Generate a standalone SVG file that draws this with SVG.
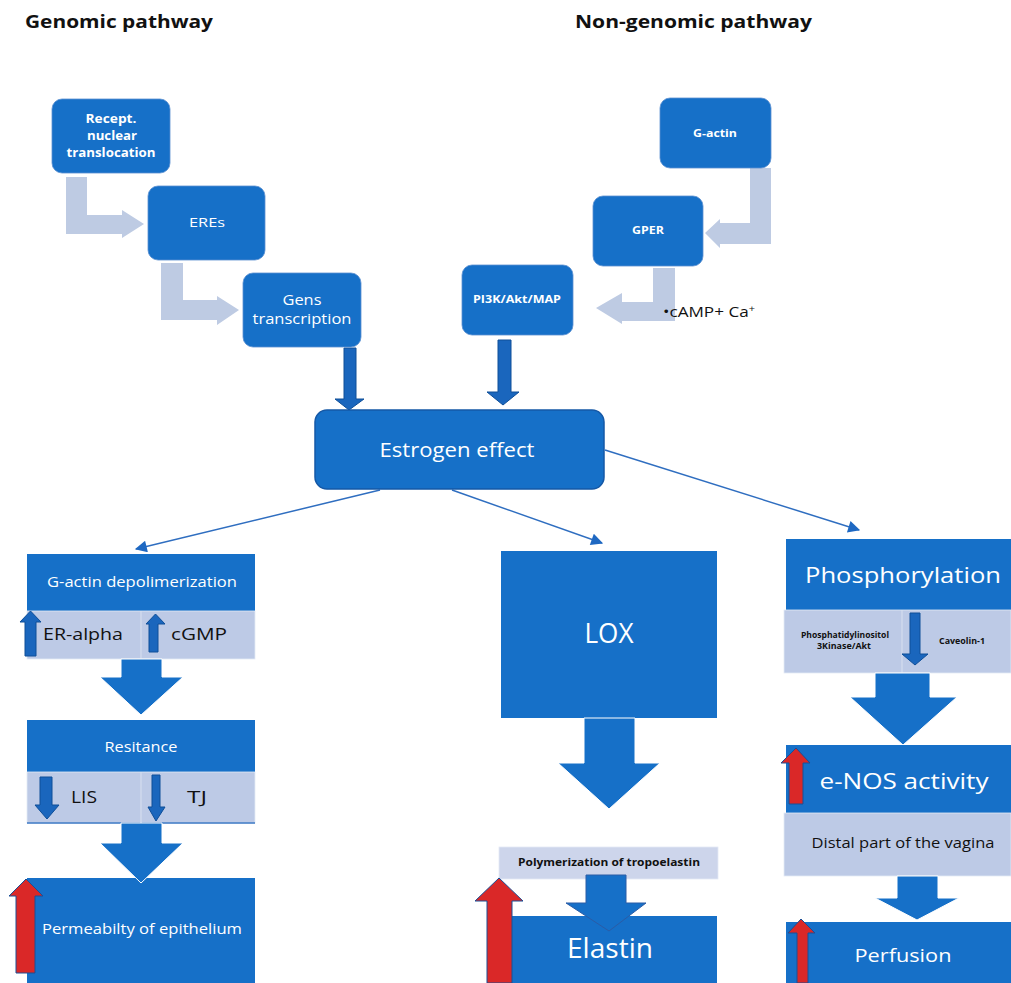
<svg xmlns="http://www.w3.org/2000/svg" width="1011" height="983" viewBox="0 0 1011 983">
<style>
.box{fill:#1670C8;}
.rbox{fill:#1670C8;stroke:#5a8fd0;stroke-width:0.8;}
.lt{fill:#BDCAE6;stroke:#e4eaf6;stroke-width:0.8;}
.la{fill:#BECBE3;}
.big{fill:#1670C8;stroke:#ffffff;stroke-width:1;}
.dk{fill:#1A66BD;stroke:#0E4E98;stroke-width:1;}
.red{fill:#DA2828;stroke:#1B4E95;stroke-width:1;}
.w{fill:#ffffff;font-family:"Open Sans","Liberation Sans",sans-serif;text-anchor:middle;}
.b{fill:#111111;font-family:"Open Sans","Liberation Sans",sans-serif;}
.bold{font-weight:bold;}
.ln{stroke:#2F6EC0;stroke-width:1.5;fill:none;marker-end:url(#ah);}
</style>
<defs>
<marker id="ah" viewBox="0 0 10 10" refX="9" refY="5" markerWidth="15" markerHeight="12" markerUnits="userSpaceOnUse" orient="auto">
<path d="M0,0 L10,5 L0,10 Z" fill="#1E68C2"/>
</marker>
</defs>
<rect width="1011" height="983" fill="#ffffff"/>

<g id="titles">
<text class="b bold" x="25" y="28" font-size="18" textLength="188" lengthAdjust="spacingAndGlyphs">Genomic pathway</text>
<text class="b bold" x="575" y="28" font-size="18" textLength="237" lengthAdjust="spacingAndGlyphs">Non-genomic pathway</text>
</g>

<g id="connectors">
<polygon class="la" points="66,177 87,177 87,215 122,215 122,210 144,224 122,238 122,234 66,234"/>
<polygon class="la" points="161,263 183,263 183,300 217,300 217,296 239,310 217,325 217,320 161,320"/>
<polygon class="la" points="750,168 771,168 771,244 720,244 720,248 705,233 720,219 720,223 750,223"/>
<polygon class="la" points="653,268 675,268 675,321 622,321 622,324 596,308 622,293 622,302 653,302"/>
<polygon class="dk" points="344,348 356,348 356,399 364,399 349,410 335,399 344,399"/>
<polygon class="dk" points="498,340 511,340 511,392 519,392 503,405 487,392 498,392"/>
<line class="ln" x1="380" y1="490" x2="136" y2="549"/>
<line class="ln" x1="452" y1="490" x2="602" y2="543"/>
<line class="ln" x1="605" y1="450" x2="859" y2="530"/>
</g>

<g id="recept">
<rect class="rbox" x="52" y="99" width="118" height="74" rx="10"/>
<text class="w bold" x="111" y="123" font-size="12" textLength="51" lengthAdjust="spacingAndGlyphs">Recept.</text>
<text class="w bold" x="112" y="140" font-size="12" textLength="50" lengthAdjust="spacingAndGlyphs">nuclear</text>
<text class="w bold" x="111" y="157" font-size="12" textLength="89" lengthAdjust="spacingAndGlyphs">translocation</text>
</g>
<g id="eres">
<rect class="rbox" x="148" y="186" width="117" height="74" rx="10"/>
<text class="w" x="207" y="227" font-size="13" textLength="36" lengthAdjust="spacingAndGlyphs">EREs</text>
</g>
<g id="gens">
<rect class="rbox" x="243" y="273" width="118" height="74" rx="10"/>
<text class="w" x="302" y="305" font-size="15" textLength="39" lengthAdjust="spacingAndGlyphs">Gens</text>
<text class="w" x="302" y="324" font-size="15" textLength="99" lengthAdjust="spacingAndGlyphs">transcription</text>
</g>

<g id="gactin">
<rect class="rbox" x="660" y="98" width="111" height="70" rx="10"/>
<text class="w bold" x="715" y="137" font-size="11" textLength="44" lengthAdjust="spacingAndGlyphs">G-actin</text>
</g>
<g id="gper">
<rect class="rbox" x="593" y="196" width="110" height="70" rx="10"/>
<text class="w bold" x="648" y="234" font-size="11" textLength="32" lengthAdjust="spacingAndGlyphs">GPER</text>
</g>
<g id="pi3k">
<rect class="rbox" x="462" y="265" width="111" height="70" rx="10"/>
<text class="w bold" x="517" y="303" font-size="11" textLength="88" lengthAdjust="spacingAndGlyphs">PI3K/Akt/MAP</text>
</g>
<g id="camp">
<text class="b" x="663" y="317" font-size="14" textLength="92" lengthAdjust="spacingAndGlyphs">•cAMP+ Ca<tspan font-size="9" dy="-5">+</tspan></text>
</g>

<g id="estrogen">
<rect x="315" y="410" width="289" height="79" rx="12" fill="#1670C8" stroke="#1558A6" stroke-width="1.5"/>
<text class="w" x="457" y="457" font-size="20" textLength="155" lengthAdjust="spacingAndGlyphs">Estrogen effect</text>
</g>

<g id="gactin-depol">
<rect class="box" x="27" y="554" width="228" height="57"/>
<text class="w" x="142" y="587" font-size="15" textLength="190" lengthAdjust="spacingAndGlyphs">G-actin depolimerization</text>
<rect class="lt" x="27" y="611" width="228" height="48"/>
<line x1="141" y1="611" x2="141" y2="659" stroke="#d8e0f0" stroke-width="1"/>
<polygon class="dk" points="25,656 36,656 36,622 41,622 30.5,611 20,622 25,622"/>
<text class="b" x="43" y="640" font-size="17" textLength="80" lengthAdjust="spacingAndGlyphs">ER-alpha</text>
<polygon class="dk" points="149,652 158,652 158,624 165,624 155.5,614 146,624 149,624"/>
<text class="b" x="171" y="640" font-size="17" textLength="56" lengthAdjust="spacingAndGlyphs">cGMP</text>
</g>
<g id="arrow-l1">
<polygon class="big" points="121,659 162,659 162,677 183,677 141,715 100,677 121,677"/>
</g>
<g id="resitance">
<rect class="box" x="27" y="720" width="228" height="52"/>
<text class="w" x="141" y="752" font-size="14" textLength="73" lengthAdjust="spacingAndGlyphs">Resitance</text>
<rect class="lt" x="27" y="772" width="228" height="51"/>
<line x1="27" y1="823" x2="255" y2="823" stroke="#3D78C4" stroke-width="1.5"/>
<line x1="141" y1="772" x2="141" y2="823" stroke="#d8e0f0" stroke-width="1"/>
<polygon class="dk" points="40,777 52,777 52,805 59,805 47,819 35,805 40,805"/>
<text class="b" x="71" y="803" font-size="16" textLength="26" lengthAdjust="spacingAndGlyphs">LIS</text>
<polygon class="dk" points="152,775 160,775 160,807 165,807 156,821 148,807 152,807"/>
<text class="b" x="187" y="803" font-size="16" textLength="20" lengthAdjust="spacingAndGlyphs">TJ</text>
</g>
<g id="permeability">
<rect class="box" x="27" y="878" width="228" height="105"/>
<text class="w" x="142" y="934" font-size="15" textLength="200" lengthAdjust="spacingAndGlyphs">Permeabilty of epithelium</text>
<polygon class="red" points="16,973 35,973 35,896 43,896 26,879 9,896 16,896"/>
</g>
<g id="arrow-l2">
<polygon class="big" points="121,823 162,823 162,843 183,843 141,883 100,843 121,843"/>
</g>

<g id="lox">
<rect class="box" x="501" y="551" width="216" height="167"/>
<text class="w" x="609" y="643" font-size="27" textLength="49" lengthAdjust="spacingAndGlyphs">LOX</text>
</g>
<g id="arrow-m1">
<polygon class="big" points="584,718 635,718 635,763 660,763 609,809 558,763 584,763"/>
</g>
<g id="elastin">
<rect class="box" x="512" y="916" width="205" height="67"/>
<text class="w" x="610" y="958" font-size="27" textLength="86" lengthAdjust="spacingAndGlyphs">Elastin</text>
</g>
<g id="polymerization">
<rect x="499" y="847" width="219" height="32" fill="#CDD5EB" stroke="#e4e9f5" stroke-width="0.8"/>
<text class="b bold" x="518" y="866" font-size="10" textLength="182" lengthAdjust="spacingAndGlyphs">Polymerization of tropoelastin</text>
<polygon points="586,875 626,875 626,903 646,903 609,931 566,903 586,903" fill="#1670C8" stroke="#2A5CA6" stroke-width="1"/>
<polygon class="red" points="487,983 512,983 512,901 523,901 499,878 475,901 487,901"/>
</g>

<g id="phosphorylation">
<rect class="box" x="786" y="539" width="225" height="71"/>
<text class="w" x="903" y="583" font-size="22" textLength="196" lengthAdjust="spacingAndGlyphs">Phosphorylation</text>
<rect class="lt" x="784" y="610" width="227" height="63"/>
<line x1="902" y1="610" x2="902" y2="673" stroke="#d8e0f0" stroke-width="1"/>
<text class="b bold" x="845" y="638" font-size="8" text-anchor="middle" textLength="88" lengthAdjust="spacingAndGlyphs">Phosphatidylinositol</text>
<text class="b bold" x="844" y="649" font-size="8" text-anchor="middle" textLength="54" lengthAdjust="spacingAndGlyphs">3Kinase/Akt</text>
<polygon class="dk" points="910,613 920,613 920,654 928,654 915,665 902,654 910,654"/>
<text class="b bold" x="962" y="644" font-size="8" text-anchor="middle" textLength="46" lengthAdjust="spacingAndGlyphs">Caveolin-1</text>
</g>
<g id="arrow-r1">
<polygon class="big" points="875,673 930,673 930,697 957,697 903,745 850,697 875,697"/>
</g>
<g id="enos">
<rect class="box" x="786" y="745" width="225" height="68"/>
<text class="w" x="904" y="789" font-size="22" textLength="169" lengthAdjust="spacingAndGlyphs">e-NOS activity</text>
<polygon class="red" points="789,804 803,804 803,763 810,763 796,748 781,763 789,763"/>
<rect class="lt" x="784" y="813" width="227" height="63"/>
<text class="b" x="903" y="848" font-size="14" text-anchor="middle" textLength="183" lengthAdjust="spacingAndGlyphs">Distal part of the vagina</text>
</g>
<g id="perfusion">
<rect class="box" x="786" y="922" width="225" height="61"/>
<text class="w" x="903" y="962" font-size="19" textLength="97" lengthAdjust="spacingAndGlyphs">Perfusion</text>
<polygon class="red" points="797,983 808,983 808,933 815,933 801,919 788,933 797,933"/>
</g>
<g id="arrow-r2">
<polygon class="big" points="897,876 938,876 938,898 959,898 917,920 875,898 897,898"/>
</g>
</svg>
